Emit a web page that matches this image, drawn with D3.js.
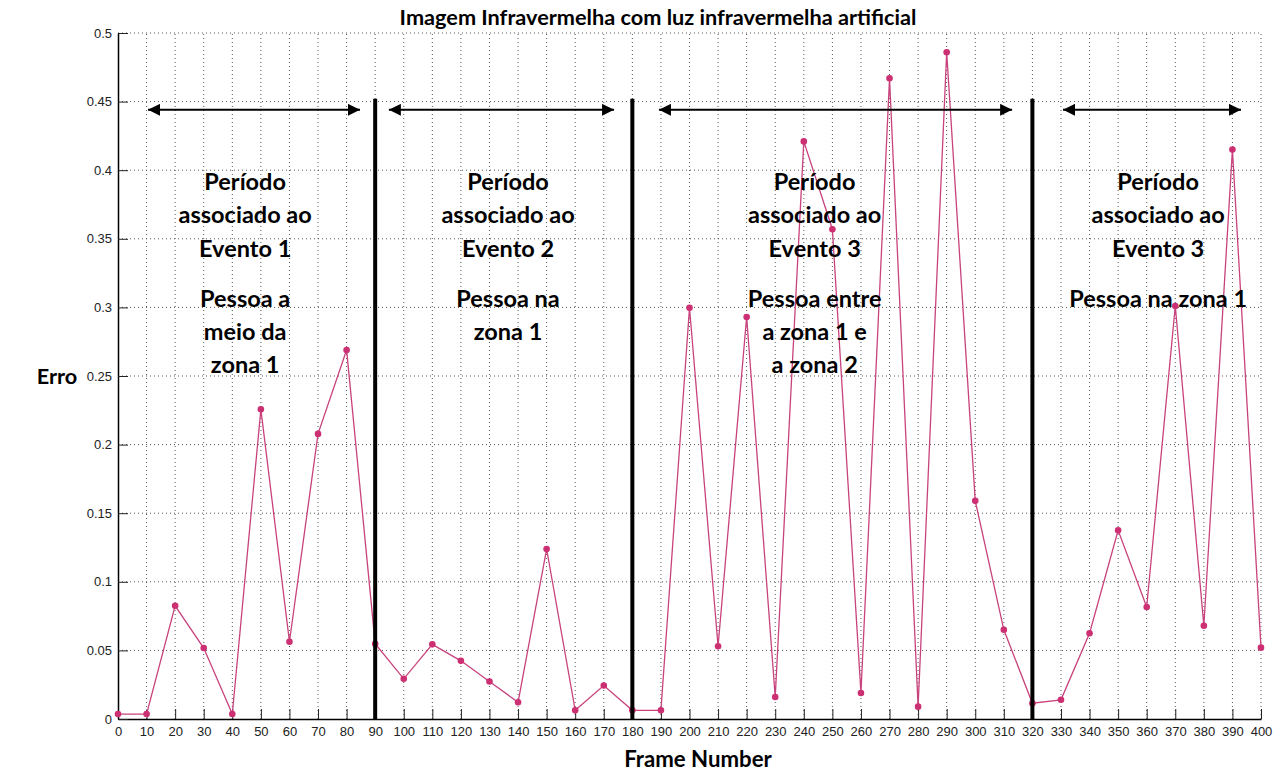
<!DOCTYPE html>
<html>
<head>
<meta charset="utf-8">
<script src="https://cdn.jsdelivr.net/npm/d3@7"></script>
<style>
  html, body { margin: 0; padding: 0; background: #fff; }
  svg { display: block; }
  .bold { font-family: Lato, "Open Sans", sans-serif; font-weight: 700; fill: #000; }
</style>
</head>
<body>
<svg id="chart" width="1273" height="771"></svg>
<script>
// Frame numbers sampled every 10 frames
const frames = [0,10,20,30,40,50,60,70,80,90,100,110,120,130,140,150,160,170,180,190,
  200,210,220,230,240,250,260,270,280,290,300,310,320,330,340,350,360,370,380,390,400];
// Error per frame
const erro = [0.0036,0.0036,0.0825,0.0517,0.0036,0.2257,0.0563,0.2078,0.2690,0.0549,
  0.0293,0.0544,0.0424,0.0273,0.0122,0.1239,0.0063,0.0244,0.0063,0.0063,
  0.2997,0.0530,0.2930,0.0160,0.4210,0.3570,0.0190,0.4670,0.0090,0.4860,
  0.1590,0.0650,0.0115,0.0140,0.0625,0.1375,0.0816,0.3010,0.0680,0.4150,0.0520];

const xTicks = d3.range(0, 401, 10);
const yTicks = [0, 0.05, 0.1, 0.15, 0.2, 0.25, 0.3, 0.35, 0.4, 0.45, 0.5];
const yTickLabels = ["0","0.05","0.1","0.15","0.2","0.25","0.3","0.35","0.4","0.45","0.5"];

// Event boundaries (frames) and double arrows spanning each period
const boundaries = [90, 180, 320];
const boundaryTop = 0.452;
const arrowStart = [10.5, 94.8, 189.3, 330.7];
const arrowEnd = [84.7, 173.6, 312.9, 393.0];
const arrowLevel = 0.444;

// Period annotations: centre frame, heading lines and description lines
const noteCentre = [44.5, 136.5, 243.8, 364];
const noteHead = [
  ["Período","associado ao","Evento 1"],
  ["Período","associado ao","Evento 2"],
  ["Período","associado ao","Evento 3"],
  ["Período","associado ao","Evento 3"]
];
const noteBody = [
  ["Pessoa a","meio da","zona 1"],
  ["Pessoa na","zona 1"],
  ["Pessoa entre","a zona 1 e","a zona 2"],
  ["Pessoa na zona 1"]
];
const noteTop = 0.3856;

const title = "Imagem Infravermelha com luz infravermelha artificial";
const xLabel = "Frame Number";
const yLabel = "Erro";

const svg = d3.select("#chart");
const margin = { left: 118, right: 12, top: 33, bottom: 52 };
const W = 1273, H = 771;

const x = d3.scaleLinear().domain([0, 400]).range([margin.left, W - margin.right]);
const y = d3.scaleLinear().domain([0, 0.5]).range([H - margin.bottom, margin.top]);

const lineColor = "#c8427d";
const dotColor = "#cc2f72";

// dotted grid
const grid = svg.append("g");
grid.selectAll("line.gx").data(xTicks.slice(1)).join("line")
  .attr("x1", d => x(d)).attr("x2", d => x(d))
  .attr("y1", y(0)).attr("y2", y(0.5))
  .attr("stroke", "#555").attr("stroke-width", 1)
  .attr("stroke-dasharray", "1,3");
grid.selectAll("line.gy").data(yTicks.slice(1)).join("line")
  .attr("x1", x(0)).attr("x2", x(400))
  .attr("y1", d => y(d)).attr("y2", d => y(d))
  .attr("stroke", "#555").attr("stroke-width", 1)
  .attr("stroke-dasharray", "1,3");

// axes with inward ticks
const tickFont = "Liberation Sans, Arial, sans-serif";
const xAxis = d3.axisBottom(x).tickValues(xTicks).tickSize(-10).tickPadding(8).tickSizeOuter(0);
const gx = svg.append("g").attr("transform", `translate(0,${y(0)})`)
  .attr("font-size", 13).attr("font-family", tickFont).call(xAxis);
gx.attr("font-size", 13).attr("font-family", tickFont);
gx.select(".domain").attr("stroke", "#000").attr("stroke-width", 1.5);
gx.selectAll(".tick line").attr("stroke", "#222");
gx.selectAll(".tick text").attr("fill", "#222");

const yAxis = d3.axisLeft(y).tickValues(yTicks).tickFormat((d, i) => yTickLabels[i])
  .tickSize(-10).tickPadding(6).tickSizeOuter(0);
const gy = svg.append("g").attr("transform", `translate(${x(0)},0)`).call(yAxis);
gy.attr("font-size", 13).attr("font-family", tickFont);
gy.select(".domain").attr("stroke", "#000").attr("stroke-width", 1.5);
gy.selectAll(".tick line").attr("stroke", "#222");
gy.selectAll(".tick text").attr("fill", "#222");

// data line and markers
const data = frames.map((f, i) => ({ f, v: erro[i] }));
svg.append("path").datum(data)
  .attr("fill", "none").attr("stroke", lineColor).attr("stroke-width", 1.3)
  .attr("d", d3.line().x(d => x(d.f)).y(d => y(d.v)));
svg.append("g").selectAll("circle").data(data).join("circle")
  .attr("cx", d => x(d.f)).attr("cy", d => y(d.v)).attr("r", 3.3)
  .attr("fill", dotColor);

// event boundaries
svg.append("g").selectAll("line").data(boundaries).join("line")
  .attr("x1", d => x(d)).attr("x2", d => x(d))
  .attr("y1", y(boundaryTop)).attr("y2", y(0))
  .attr("stroke", "#000").attr("stroke-width", 4);

// double-headed arrows
const defs = svg.append("defs");
defs.append("marker").attr("id", "head").attr("viewBox", "0 0 10 10")
  .attr("refX", 10).attr("refY", 5).attr("markerWidth", 16).attr("markerHeight", 12)
  .attr("markerUnits", "userSpaceOnUse").attr("orient", "auto-start-reverse")
  .append("path").attr("d", "M0,0 L10,5 L0,10 Z").attr("fill", "#000");
svg.append("g").selectAll("line").data(arrowStart).join("line")
  .attr("x1", d => x(d)).attr("x2", (d, i) => x(arrowEnd[i]))
  .attr("y1", y(arrowLevel)).attr("y2", y(arrowLevel))
  .attr("stroke", "#000").attr("stroke-width", 2)
  .attr("marker-start", "url(#head)").attr("marker-end", "url(#head)");

// period annotations: three heading lines, a half-line gap, then the description
const lineStep = 33.3, gapStep = 50;
const notes = svg.append("g");
noteHead.forEach((head, k) => {
  const cx = x(noteCentre[k]);
  const t = notes.append("text").attr("class", "bold")
    .attr("text-anchor", "middle").attr("font-size", 23.5)
    .attr("x", cx).attr("y", y(noteTop));
  head.forEach((s, j) => {
    t.append("tspan").attr("x", cx).attr("dy", j === 0 ? 0 : lineStep).text(s);
  });
  noteBody[k].forEach((s, j) => {
    t.append("tspan").attr("x", cx).attr("dy", j === 0 ? gapStep : lineStep).text(s);
  });
});

// titles
svg.append("text").attr("class", "bold").attr("text-anchor", "middle")
  .attr("font-size", 21.7).attr("x", 658).attr("y", 25).text(title);
svg.append("text").attr("class", "bold").attr("text-anchor", "middle")
  .attr("font-size", 22.2).attr("x", 698).attr("y", 767).text(xLabel);
svg.append("text").attr("class", "bold").attr("text-anchor", "middle")
  .attr("font-size", 21.7).attr("x", 57).attr("y", 384).text(yLabel);
</script>
</body>
</html>
